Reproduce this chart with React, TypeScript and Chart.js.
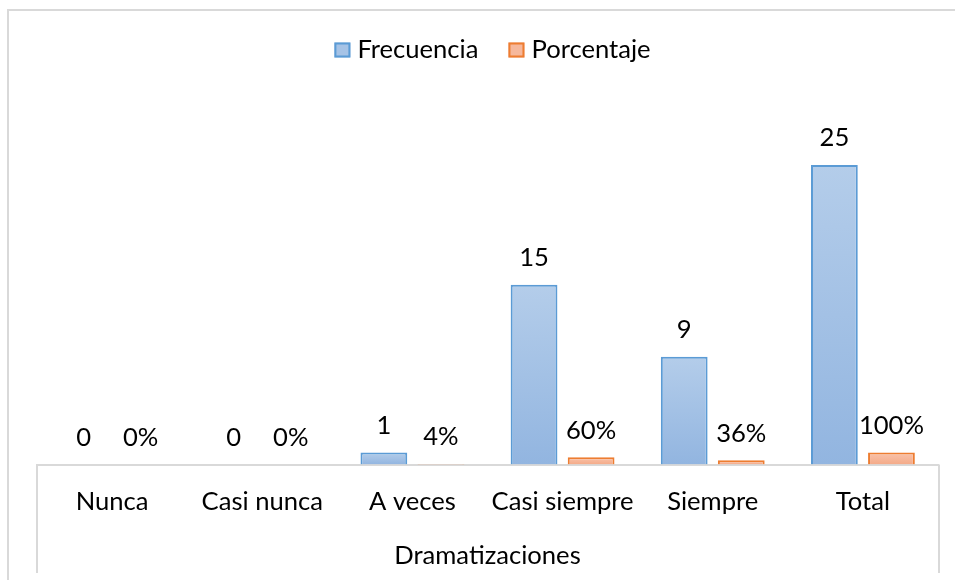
import React, { useEffect, useRef } from "react";
import { Chart, registerables } from "chart.js";

Chart.register(...registerables);

const CATEGORIES = ["Nunca", "Casi nunca", "A veces", "Casi siempre", "Siempre", "Total"];
const FRECUENCIA = [0, 0, 1, 15, 9, 25];
const PORCENTAJE = [0, 0, 0.04, 0.6, 0.36, 1.0];
const SERIES_LABELS = ["Frecuencia", "Porcentaje"];
const AXIS_TITLE = "Dramatizaciones";
const Y_MAX = 30;

const FONT_FAMILY = "Lato, 'Noto Sans', sans-serif";
const FONT_SIZE = 25.6;

const BLUE_BORDER = "#5b9bd5";
const BLUE_TOP = "#b4cdea";
const BLUE_BOTTOM = "#92b5e0";
const BLUE_LEGEND = "#a6c3e6";
const ORANGE_BORDER = "#ed7d31";
const ORANGE_TOP = "#f9c3ab";
const ORANGE_BOTTOM = "#f4aa88";
const ORANGE_LEGEND = "#f6b89c";
const FRAME = "#d9d9d9";

function gradientFill(top: string, bottom: string, fallback: string) {
  return (ctx: any) => {
    const chart = ctx.chart;
    if (!chart.chartArea || ctx.type !== "data" || !ctx.parsed) return fallback;
    const ys = chart.scales.y;
    const yTop = ys.getPixelForValue(ctx.parsed.y);
    const yBot = ys.getPixelForValue(0);
    if (!(yBot - yTop > 0.5)) return fallback;
    const g = chart.ctx.createLinearGradient(0, yTop, 0, yBot);
    g.addColorStop(0, top);
    g.addColorStop(1, bottom);
    return g;
  };
}

const framePlugin = {
  id: "frame",
  beforeDraw(chart: any) {
    const c = chart.ctx;
    const a = chart.chartArea;
    c.save();
    c.strokeStyle = FRAME;
    c.lineWidth = 2;
    c.strokeRect(8, 10, chart.width + 40, chart.height + 40);
    c.beginPath();
    c.moveTo(a.left, a.bottom);
    c.lineTo(a.left, 573);
    c.moveTo(a.right + 1, a.bottom);
    c.lineTo(a.right + 1, 573);
    c.stroke();
    c.restore();
  },
};

const labelsPlugin = {
  id: "valueLabels",
  afterDatasetsDraw(chart: any) {
    const c = chart.ctx;
    c.save();
    c.font = `${FONT_SIZE}px ${FONT_FAMILY}`;
    c.fillStyle = "#000";
    c.textAlign = "center";
    c.textBaseline = "middle";
    chart.data.datasets.forEach((ds: any, di: number) => {
      const meta = chart.getDatasetMeta(di);
      meta.data.forEach((bar: any, i: number) => {
        const v = ds.data[i] as number;
        const txt = di === 0 ? String(v) : `${Math.round(v * 100)}%`;
        c.fillText(txt, bar.x, bar.y - 27);
      });
    });
    c.restore();
  },
};

const legendPlugin = {
  id: "customLegend",
  afterDraw(chart: any) {
    const c = chart.ctx;
    c.save();
    c.font = `${FONT_SIZE}px ${FONT_FAMILY}`;
    c.textBaseline = "middle";
    c.textAlign = "left";
    const fills = [BLUE_LEGEND, ORANGE_LEGEND];
    const strokes = [BLUE_BORDER, ORANGE_BORDER];
    const boxW = 16, boxH = 15, gapBox = 7, gapItem = 30;
    const widths = SERIES_LABELS.map((t) => boxW + gapBox + c.measureText(t).width);
    const total = widths.reduce((s, w) => s + w, 0) + gapItem * (widths.length - 1);
    const cx = (chart.chartArea.left + chart.chartArea.right) / 2 + 5;
    const cy = 50;
    let x = cx - total / 2;
    SERIES_LABELS.forEach((t, i) => {
      c.fillStyle = fills[i];
      c.fillRect(x, cy - boxH / 2, boxW, boxH);
      c.strokeStyle = strokes[i];
      c.lineWidth = 2;
      c.strokeRect(x + 1, cy - boxH / 2 + 1, boxW - 2, boxH - 2);
      c.fillStyle = "#000";
      c.fillText(t, x + boxW + gapBox, cy);
      x += widths[i] + gapItem;
    });
    c.restore();
  },
};

export default function App() {
  const ref = useRef<HTMLCanvasElement | null>(null);
  useEffect(() => {
    if (!ref.current) return;
    const chart = new Chart(ref.current, {
      type: "bar",
      data: {
        labels: CATEGORIES,
        datasets: [
          {
            label: SERIES_LABELS[0],
            data: FRECUENCIA,
            backgroundColor: gradientFill(BLUE_TOP, BLUE_BOTTOM, BLUE_LEGEND),
            borderColor: BLUE_BORDER,
            borderWidth: 2,
            categoryPercentage: 0.76,
            barPercentage: 0.82,
          },
          {
            label: SERIES_LABELS[1],
            data: PORCENTAJE,
            backgroundColor: gradientFill(ORANGE_TOP, ORANGE_BOTTOM, ORANGE_LEGEND),
            borderColor: ORANGE_BORDER,
            borderWidth: 2,
            categoryPercentage: 0.76,
            barPercentage: 0.82,
          },
        ],
      },
      options: {
        responsive: false,
        animation: false,
        layout: { padding: { left: 37, right: 17, top: 105, bottom: 9 } },
        plugins: {
          legend: { display: false },
          tooltip: { enabled: false },
        },
        scales: {
          x: {
            grid: { display: false, drawTicks: false },
            border: { display: true, color: FRAME, width: 2 },
            ticks: {
              color: "#000",
              padding: 22,
              font: { family: FONT_FAMILY, size: FONT_SIZE },
              maxRotation: 0,
              autoSkip: false,
            },
            title: {
              display: true,
              text: AXIS_TITLE,
              color: "#000",
              font: { family: FONT_FAMILY, size: FONT_SIZE },
              padding: { top: 1, bottom: 0 },
            },
          },
          y: {
            display: false,
            min: 0,
            max: Y_MAX,
          },
        },
      },
      plugins: [framePlugin, labelsPlugin, legendPlugin],
    });
    return () => chart.destroy();
  }, []);
  return (
    <div style={{ position: "absolute", left: 0, top: 0, width: 955, height: 580, background: "#fff" }}>
      <canvas ref={ref} width={955} height={580} />
    </div>
  );
}
